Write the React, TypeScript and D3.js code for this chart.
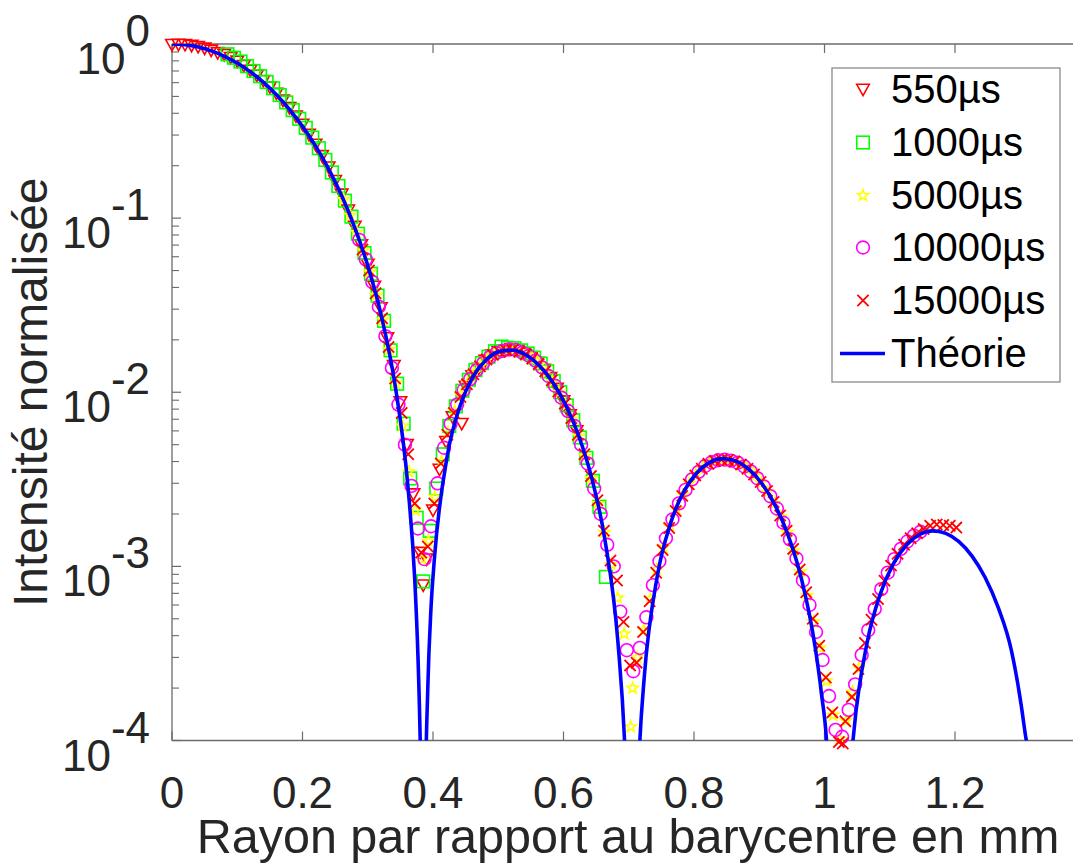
import React from 'react';
import * as d3 from 'd3';

// ---------- data ----------
const xTicks = [0, 0.2, 0.4, 0.6, 0.8, 1, 1.2];
const xTickLabels = ['0', '0.2', '0.4', '0.6', '0.8', '1', '1.2'];
const yTickValues = [1, 1e-1, 1e-2, 1e-3, 1e-4];
const yTickExponents = ['0', '-1', '-2', '-3', '-4'];
const xLabel = 'Rayon par rapport au barycentre en mm';
const yLabel = 'Intensité normalisée';
const seriesNames = ['550µs', '1000µs', '5000µs', '10000µs', '15000µs'];
const theoryName = 'Théorie';

// [rayon (mm), intensité normalisée]
const s550: [number, number][] = [
  [0.00, 0.99], [0.01, 0.995], [0.02, 0.99], [0.03, 0.98], [0.04, 0.965], [0.05, 0.945], [0.06, 0.92],
  [0.07, 0.89], [0.08, 0.87], [0.09, 0.835], [0.10, 0.795], [0.11, 0.75], [0.12, 0.705], [0.13, 0.66],
  [0.14, 0.615], [0.15, 0.565], [0.16, 0.52], [0.17, 0.475], [0.18, 0.43], [0.19, 0.385], [0.20, 0.345],
  [0.21, 0.302], [0.22, 0.265], [0.23, 0.228], [0.24, 0.196], [0.25, 0.164], [0.26, 0.137], [0.27, 0.111],
  [0.28, 0.0895], [0.29, 0.07], [0.30, 0.0542], [0.31, 0.0405], [0.32, 0.0305], [0.33, 0.0205], [0.34, 0.0142],
  [0.35, 0.0088], [0.36, 0.005], [0.37, 0.0026], [0.38, 0.0012], [0.385, 0.00078], [0.39, 0.0011],
  [0.40, 0.0021], [0.41, 0.0036], [0.42, 0.0052], [0.43, 0.0072], [0.444, 0.0066], [0.45, 0.0108],
  [0.46, 0.0124], [0.47, 0.0137], [0.48, 0.0152], [0.49, 0.0163], [0.50, 0.0171], [0.51, 0.0175],
  [0.52, 0.0178], [0.53, 0.0174], [0.54, 0.0167], [0.55, 0.0158], [0.56, 0.0148], [0.57, 0.0135],
  [0.58, 0.0121], [0.59, 0.0105], [0.60, 0.0089], [0.61, 0.0074], [0.62, 0.006],
];

const s1000: [number, number][] = [
  [0.085, 0.873], [0.095, 0.834], [0.105, 0.793], [0.115, 0.746], [0.125, 0.7], [0.135, 0.653],
  [0.145, 0.605], [0.155, 0.557], [0.165, 0.509], [0.175, 0.462], [0.185, 0.417], [0.195, 0.372],
  [0.205, 0.33], [0.215, 0.29], [0.225, 0.252], [0.235, 0.216], [0.245, 0.183], [0.255, 0.153],
  [0.265, 0.126], [0.275, 0.102], [0.285, 0.0813], [0.295, 0.063], [0.305, 0.0479], [0.315, 0.0359],
  [0.325, 0.0257], [0.335, 0.0174], [0.345, 0.0112], [0.355, 0.0066], [0.365, 0.0032], [0.375, 0.0019],
  [0.385, 0.00082], [0.395, 0.0016], [0.405, 0.0028], [0.415, 0.0044], [0.425, 0.0064], [0.435, 0.0083],
  [0.445, 0.0102], [0.455, 0.0118], [0.465, 0.0134], [0.475, 0.0147], [0.485, 0.016], [0.495, 0.0172],
  [0.505, 0.0183], [0.515, 0.018], [0.525, 0.0179], [0.535, 0.0174], [0.545, 0.0167], [0.555, 0.0158],
  [0.565, 0.0146], [0.575, 0.0132], [0.585, 0.0116], [0.595, 0.01], [0.605, 0.0084], [0.615, 0.0069],
  [0.625, 0.0055], [0.635, 0.0042], [0.645, 0.0031], [0.655, 0.0022], [0.665, 0.00087],
];

const s5000: [number, number][] = [
  [0.263, 0.128], [0.273, 0.104], [0.283, 0.083], [0.293, 0.065], [0.303, 0.049], [0.313, 0.036],
  [0.323, 0.026], [0.333, 0.0176], [0.343, 0.0113], [0.353, 0.0064], [0.363, 0.0035], [0.373, 0.0021],
  [0.383, 0.0011], [0.393, 0.0014], [0.403, 0.0025], [0.413, 0.004], [0.423, 0.0059], [0.433, 0.0078],
  [0.443, 0.0096], [0.453, 0.0113], [0.463, 0.0129], [0.473, 0.0142], [0.483, 0.0155], [0.493, 0.0164],
  [0.503, 0.0171], [0.513, 0.0175], [0.523, 0.0175], [0.533, 0.0171], [0.543, 0.0164], [0.553, 0.0155],
  [0.563, 0.0144], [0.573, 0.013], [0.583, 0.0115], [0.593, 0.01], [0.603, 0.0084], [0.613, 0.007],
  [0.623, 0.0056], [0.633, 0.0043], [0.643, 0.0032], [0.653, 0.0023], [0.663, 0.00157], [0.673, 0.00103],
  [0.683, 0.00066], [0.693, 0.00041], [0.703, 0.00012], [0.706, 0.0002], [0.713, 0.0003], [0.723, 0.00043],
  [0.733, 0.00065], [0.743, 0.00096], [0.753, 0.00129], [0.763, 0.0017], [0.773, 0.00214], [0.783, 0.00257],
  [0.793, 0.003], [0.803, 0.00337], [0.813, 0.00366], [0.823, 0.00389], [0.833, 0.00404], [0.843, 0.0041],
  [0.853, 0.00408], [0.863, 0.00398], [0.873, 0.00383], [0.883, 0.00361], [0.893, 0.00333], [0.903, 0.00302],
  [0.913, 0.00267], [0.923, 0.0023], [0.933, 0.00193], [0.943, 0.00157], [0.953, 0.00123], [0.963, 0.00093],
  [0.973, 0.00068], [0.983, 0.00048], [0.993, 0.00034], [1.003, 0.00022], [1.013, 0.00014], [1.023, 0.000102],
  [1.033, 0.00013], [1.043, 0.00019], [1.053, 0.00026],
];

const s10000: [number, number][] = [
  [0.287, 0.075], [0.297, 0.058], [0.307, 0.043], [0.317, 0.031], [0.327, 0.021], [0.337, 0.0138],
  [0.347, 0.0085], [0.357, 0.005], [0.367, 0.0029], [0.377, 0.00165], [0.387, 0.0011], [0.397, 0.0017],
  [0.407, 0.003], [0.417, 0.0048], [0.427, 0.0066], [0.437, 0.0085], [0.447, 0.0103], [0.457, 0.0119],
  [0.467, 0.0134], [0.477, 0.0147], [0.487, 0.0159], [0.497, 0.0168], [0.507, 0.0173], [0.517, 0.0176],
  [0.527, 0.0175], [0.537, 0.0169], [0.547, 0.0162], [0.557, 0.0152], [0.567, 0.0139], [0.577, 0.0124],
  [0.587, 0.0109], [0.597, 0.0093], [0.607, 0.0078], [0.617, 0.0064], [0.627, 0.005], [0.637, 0.0039],
  [0.647, 0.0028], [0.657, 0.002], [0.667, 0.00133], [0.677, 0.001], [0.687, 0.00055], [0.697, 0.00033],
  [0.707, 0.00025], [0.717, 0.00034], [0.727, 0.00051], [0.737, 0.00078], [0.747, 0.00107], [0.757, 0.00145],
  [0.767, 0.00186], [0.777, 0.0023], [0.787, 0.00275], [0.797, 0.00316], [0.807, 0.00349], [0.817, 0.00377],
  [0.827, 0.00396], [0.837, 0.00407], [0.847, 0.0041], [0.857, 0.00405], [0.867, 0.00394], [0.877, 0.00375],
  [0.887, 0.00351], [0.897, 0.00321], [0.907, 0.00288], [0.917, 0.00253], [0.927, 0.00215], [0.937, 0.00178],
  [0.947, 0.00143], [0.957, 0.00111], [0.967, 0.00083], [0.977, 0.0006], [0.987, 0.00042], [0.997, 0.00029],
  [1.007, 0.00018], [1.017, 0.000115], [1.027, 0.000105], [1.037, 0.00015], [1.047, 0.00021], [1.057, 0.00031],
  [1.067, 0.00043], [1.077, 0.00057], [1.087, 0.00074], [1.097, 0.00092], [1.107, 0.0011], [1.117, 0.00126],
  [1.127, 0.00139], [1.137, 0.0015], [1.147, 0.00158],
];

const s15000: [number, number][] = [
  [0.292, 0.066], [0.302, 0.05], [0.312, 0.037], [0.322, 0.0266], [0.332, 0.0182], [0.342, 0.012],
  [0.352, 0.0076], [0.362, 0.0044], [0.372, 0.0023], [0.382, 0.0012], [0.392, 0.0013], [0.402, 0.0023],
  [0.412, 0.0039], [0.422, 0.0057], [0.432, 0.0076], [0.442, 0.0094], [0.452, 0.0111], [0.462, 0.0127],
  [0.472, 0.0141], [0.482, 0.0154], [0.492, 0.0164], [0.502, 0.0171], [0.512, 0.0174], [0.522, 0.0175],
  [0.532, 0.0171], [0.542, 0.0165], [0.552, 0.0156], [0.562, 0.0145], [0.572, 0.0132], [0.582, 0.0117],
  [0.592, 0.0101], [0.602, 0.0086], [0.612, 0.0071], [0.622, 0.0057], [0.632, 0.0044], [0.642, 0.0033],
  [0.652, 0.0024], [0.662, 0.0016], [0.672, 0.00108], [0.682, 0.00083], [0.692, 0.00048], [0.702, 0.00027],
  [0.712, 0.00028], [0.722, 0.00042], [0.732, 0.00063], [0.742, 0.00092], [0.752, 0.00124], [0.762, 0.00166],
  [0.772, 0.00208], [0.782, 0.00254], [0.792, 0.00296], [0.802, 0.00333], [0.812, 0.00364], [0.822, 0.00388],
  [0.832, 0.00403], [0.842, 0.0041], [0.852, 0.00408], [0.862, 0.004], [0.872, 0.00385], [0.882, 0.00364],
  [0.892, 0.00337], [0.902, 0.00305], [0.912, 0.00271], [0.922, 0.00234], [0.932, 0.00196], [0.942, 0.0016],
  [0.952, 0.00126], [0.962, 0.00096], [0.972, 0.00071], [0.982, 0.0005], [0.992, 0.00035], [1.002, 0.00023],
  [1.012, 0.000145], [1.022, 0.000098], [1.028, 0.000096], [1.032, 0.000129], [1.042, 0.000178], [1.052, 0.000257],
  [1.062, 0.000363], [1.072, 0.000494], [1.082, 0.000649], [1.092, 0.000828], [1.102, 0.00101], [1.112, 0.00118],
  [1.122, 0.00133], [1.132, 0.00145], [1.142, 0.00155], [1.152, 0.00164], [1.162, 0.00171], [1.172, 0.00174],
  [1.182, 0.00173], [1.192, 0.00171], [1.202, 0.00167],
];

const theory: [number, number][] = [
  [0, 1], [0.0201, 0.99], [0.0402, 0.9604], [0.0603, 0.9133], [0.0804, 0.8501], [0.1005, 0.7748],
  [0.1206, 0.6897], [0.1407, 0.5993], [0.1608, 0.5075], [0.1809, 0.4175], [0.201, 0.3326], [0.2211, 0.2555],
  [0.2412, 0.1879], [0.2613, 0.1312], [0.2814, 0.08563], [0.3015, 0.05111], [0.3216, 0.02667], [0.3417, 0.01111],
  [0.3618, 0.002815], [0.3719, 8.58e-4], [0.3769, 3.08e-4], [0.3799, 1.21e-4], [0.3819, 4.54e-5], [0.3851, 1e-7],
  [0.3879, 3.49e-5], [0.392, 1.99e-4], [0.397, 5.83e-4], [0.402, 1.089e-3], [0.4221, 4.356e-3], [0.4422, 8.497e-3],
  [0.4623, 0.01245], [0.4824, 0.01547], [0.5025, 0.01717], [0.5226, 0.01742], [0.5427, 0.01636], [0.5628, 0.01425],
  [0.5829, 0.0115], [0.603, 0.008507], [0.6231, 0.005645], [0.6432, 0.003221], [0.6633, 0.001435], [0.6834, 3.68e-4],
  [0.6935, 1.01e-4], [0.6985, 3.2e-5], [0.7051, 1e-7], [0.7116, 2.98e-5], [0.7166, 9.28e-5], [0.7236, 2.275e-4],
  [0.7437, 8.774e-4], [0.7638, 0.001755], [0.7839, 0.002667], [0.804, 0.00344], [0.8241, 0.00396], [0.8442, 0.004157],
  [0.8643, 0.004025], [0.8844, 0.003603], [0.9045, 0.002972], [0.9246, 0.002234], [0.9447, 0.001493], [0.9648, 8.446e-4],
  [0.9849, 3.587e-4], [0.995, 1.9e-4], [1.005, 7.57e-5], [1.0225, 1e-7], [1.0352, 3.76e-5], [1.0452, 1.139e-4],
  [1.0653, 3.646e-4], [1.0854, 6.934e-4], [1.1055, 0.001033], [1.1256, 0.001326], [1.1457, 0.001524], [1.1658, 0.0016],
  [1.1859, 0.001546], [1.206, 0.001386], [1.2261, 0.001146], [1.2462, 8.636e-4], [1.2663, 5.79e-4], [1.2864, 3.291e-4],
  [1.3065, 1.17e-4], [1.3166, 5.57e-5], [1.3391, 1e-7],
];

// ---------- drawing ----------
const W = 1073;
const H = 864;
const FONT = "'Liberation Sans', Arial, Helvetica, sans-serif";
const TEXT = '#262626';
const AXIS = '#6b6b6b';

const seriesData = [s550, s1000, s5000, s10000, s15000];
const seriesKinds = ['tri', 'sq', 'star', 'circ', 'x'];
const seriesColors = ['#ff0000', '#00ff00', '#ffff00', '#ff00ff', '#ff0000'];

function starPath(R: number, r: number) {
  const pts: string[] = [];
  for (let k = 0; k < 10; k++) {
    const a = -Math.PI / 2 + (k * Math.PI) / 5;
    const rr = k % 2 === 0 ? R : r;
    pts.push(`${(rr * Math.cos(a)).toFixed(2)},${(rr * Math.sin(a)).toFixed(2)}`);
  }
  return 'M' + pts.join('L') + 'Z';
}
const STAR = starPath(5.8, 2.4);

function Marker({ kind, cx, cy, color }: { kind: string; cx: number; cy: number; color: string }) {
  const common = { fill: 'none', stroke: color, strokeWidth: 1.6 };
  const t = `translate(${cx},${cy})`;
  switch (kind) {
    case 'tri':
      return <path transform={t} d="M-6.3,-5.2L6.3,-5.2L0,6.2Z" {...common} />;
    case 'sq':
      return <rect x={cx - 6.3} y={cy - 6.3} width={12.6} height={12.6} {...common} />;
    case 'star':
      return <path transform={t} d={STAR} {...common} />;
    case 'circ':
      return <circle cx={cx} cy={cy} r={6.4} {...common} />;
    default:
      return <path transform={t} d="M-5.6,-5.6L5.6,5.6M-5.6,5.6L5.6,-5.6" {...common} strokeWidth={1.8} />;
  }
}

export default function App() {
  const x = d3.scaleLinear().domain([0, 1.4]).range([172, 1085.5]);
  const y = d3.scaleLog().domain([1e-4, 1]).range([740.5, 44]);
  const left = x(0);
  const top = y(1);
  const bottom = y(1e-4);

  const line = d3
    .line<[number, number]>()
    .x((d) => x(d[0]))
    .y((d) => y(d[1]))
    .curve(d3.curveMonotoneX);

  const minorTicks: number[] = [];
  for (let e = -4; e < 0; e++) {
    for (let k = 2; k <= 9; k++) minorTicks.push(k * Math.pow(10, e));
  }

  // legend geometry
  const lgX = 832;
  const lgY = 68;
  const lgW = 228;
  const lgH = 314;
  const rowBase = [103, 156, 209, 261, 314, 367];

  return (
    <svg
      width={W}
      height={H}
      style={{ position: 'absolute', left: 0, top: 0, background: '#fff' }}
      fontFamily={FONT}
    >
      <defs>
        <clipPath id="plotClip">
          <rect x={left} y={top} width={W - left} height={bottom - top} />
        </clipPath>
      </defs>
      <rect x={0} y={0} width={W} height={H} fill="#fff" />

      {/* axes frame */}
      <line x1={left} y1={top} x2={W} y2={top} stroke={AXIS} strokeWidth={1.3} />
      <line x1={left} y1={bottom} x2={W} y2={bottom} stroke={AXIS} strokeWidth={1.3} />
      <line x1={left} y1={top} x2={left} y2={bottom} stroke={AXIS} strokeWidth={1.3} />

      {/* x ticks */}
      {xTicks.map((t, i) => (
        <g key={'xt' + i}>
          <line x1={x(t)} x2={x(t)} y1={bottom} y2={bottom - 9} stroke={AXIS} strokeWidth={1.2} />
          <line x1={x(t)} x2={x(t)} y1={top} y2={top + 9} stroke={AXIS} strokeWidth={1.2} />
          <text x={x(t)} y={808} textAnchor="middle" fontSize={44} fill={TEXT}>
            {xTickLabels[i]}
          </text>
        </g>
      ))}

      {/* y ticks */}
      {yTickValues.map((v, i) => (
        <g key={'yt' + i}>
          <line x1={left} x2={left + 9} y1={y(v)} y2={y(v)} stroke={AXIS} strokeWidth={1.2} />
          <text x={150} y={y(v) + 30} textAnchor="end" fontSize={44} fill={TEXT}>
            <tspan>10</tspan>
            <tspan dy={-28}>{yTickExponents[i]}</tspan>
          </text>
        </g>
      ))}
      {minorTicks.map((v, i) => (
        <line key={'ym' + i} x1={left} x2={left + 7} y1={y(v)} y2={y(v)} stroke={AXIS} strokeWidth={1.1} />
      ))}

      {/* axis labels */}
      <text x={628} y={853} textAnchor="middle" fontSize={48.5} fill={TEXT}>
        {xLabel}
      </text>
      <text
        transform={`translate(47,${(top + bottom) / 2}) rotate(-90)`}
        textAnchor="middle"
        fontSize={48}
        fill={TEXT}
      >
        {yLabel}
      </text>

      {/* scatter series */}
      {seriesData.map((data, si) => (
        <g key={'s' + si}>
          {data.map((d, j) => (
            <Marker key={j} kind={seriesKinds[si]} cx={x(d[0])} cy={y(d[1])} color={seriesColors[si]} />
          ))}
        </g>
      ))}

      {/* theory */}
      <path d={line(theory) || ''} fill="none" stroke="#0000ff" strokeWidth={3.6} clipPath="url(#plotClip)" />

      {/* legend */}
      <rect x={lgX} y={lgY} width={lgW} height={lgH} fill="#fff" stroke="#8a8a8a" strokeWidth={1.3} />
      {seriesNames.map((name, i) => (
        <g key={'lg' + i}>
          <Marker kind={seriesKinds[i]} cx={863} cy={rowBase[i] - 13.5} color={seriesColors[i]} />
          <text x={891} y={rowBase[i]} fontSize={40} fill="#000">
            {name}
          </text>
        </g>
      ))}
      <line x1={840} x2={885} y1={rowBase[5] - 13.5} y2={rowBase[5] - 13.5} stroke="#0000ff" strokeWidth={3.6} />
      <text x={891} y={rowBase[5]} fontSize={40} fill="#000">
        {theoryName}
      </text>
    </svg>
  );
}
